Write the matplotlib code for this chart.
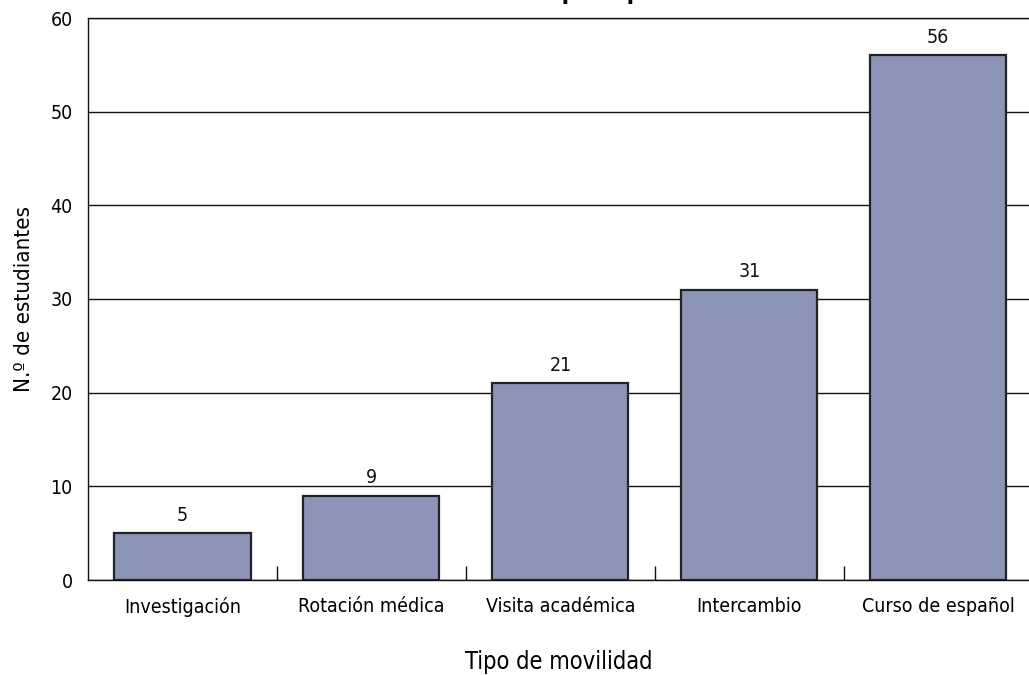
import matplotlib.pyplot as plt
import numpy as np

categorias = ['Investigación', 'Rotación médica', 'Visita académica', 'Intercambio', 'Curso de español']
estudiantes = [5, 9, 21, 31, 56]
titulo = 'Estudiantes internacionales por tipo de movilidad'

plt.rcParams['font.family'] = ['DejaVu Sans']
plt.rcParams['font.stretch'] = 'condensed'

fig = plt.figure(figsize=(10.29, 6.75), dpi=100)
ax = fig.add_axes([88 / 1029, 1 - 580 / 675, (1029 - 88) / 1029, (580 - 18) / 675])

x = np.arange(len(categorias))
ax.bar(x, estudiantes, width=0.72, color='#8C95B7', edgecolor='#222222',
       linewidth=1.6, zorder=3)
for xi, v in zip(x, estudiantes):
    ax.text(xi, v + 0.9, str(v), ha='center', va='bottom', fontsize=14, color='#111111')

ax.set_ylim(0, 60)
ax.set_xlim(-0.5, 4.48)
ax.set_yticks(range(0, 61, 10))
ax.yaxis.grid(True, color='#111111', linewidth=1.0, zorder=1)
ax.set_axisbelow(True)

ax.set_xticks(x)
ax.set_xticklabels(categorias)
ax.set_xticks(x[:-1] + 0.5, minor=True)
ax.tick_params(axis='x', which='major', length=0, pad=12, labelsize=14)
ax.tick_params(axis='x', which='minor', direction='in', length=10, width=1.0, color='#111111')
ax.tick_params(axis='y', length=0, pad=11, labelsize=14)

ax.spines['right'].set_visible(False)
for s in ['left', 'bottom', 'top']:
    ax.spines[s].set_color('#111111')
    ax.spines[s].set_linewidth(1.0)

ax.set_ylabel('N.º de estudiantes', fontsize=16, labelpad=12)
ax.set_xlabel('Tipo de movilidad', fontsize=17, labelpad=24)

# the title sits above the top edge, only its descenders show
fig.text(0.505, 1.0 + 0.5 / 675, titulo, ha='center', va='baseline', fontsize=17, fontweight='bold')

fig.savefig('out.png', dpi=100)
